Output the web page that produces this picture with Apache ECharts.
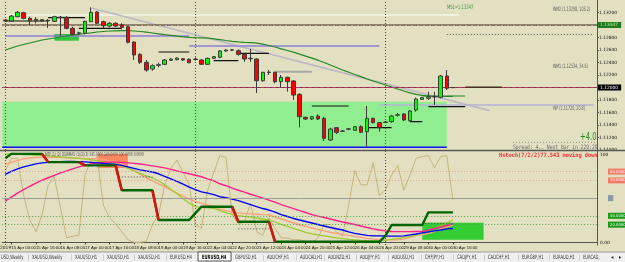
<!DOCTYPE html>
<html><head><meta charset="utf-8">
<script src="https://cdn.jsdelivr.net/npm/echarts/dist/echarts.min.js"></script>
<style>html,body{margin:0;padding:0;background:#E3DFC1;}#c{width:625px;height:262px;}</style>
</head><body><div id="c"></div>
<script>
// ---------- DATA ----------
const sessions = [
  ['14 Apr',[20]],
  ['15 Apr',[0,4,8,12,16,20]],['16 Apr',[0,4,8,12,16,20]],['17 Apr',[0,4,8,12,16,20]],
  ['18 Apr',[0,4,8,12,16,20]],['19 Apr',[0,4,8,12,16,20]],
  ['21 Apr',[20]],
  ['22 Apr',[0,4,8,12,16,20]],['23 Apr',[0,4,8,12,16,20]],['24 Apr',[0,4,8,12,16,20]],
  ['25 Apr',[0,4,8,12,16,20]],['26 Apr',[0,4,8,12,16,20]],
  ['28 Apr',[20]],
  ['29 Apr',[0,4,8,12,16,20]],['30 Apr',[0,4,8,12,16]]
];
const emptySlots = 23;
const weekStarts = [0, 31, 62];

const opens = [1.13080,1.13064,1.13133,1.13197,1.13107,1.13069,1.13085,1.13075,1.13059,1.13120,
 1.13123,1.12947,1.12867,1.12867,1.13053,1.13208,1.13053,1.12984,1.13027,1.13005,
 1.12973,1.12728,1.12531,1.12403,1.12296,1.12355,1.12371,1.12435,1.12445,1.12461,
 1.12451,1.12456,1.12440,1.12371,1.12467,1.12483,1.12584,1.12597,1.12589,1.12531,
 1.12459,1.12456,1.12109,1.12240,1.12243,1.12093,1.12163,1.12104,1.11891,1.11523,
 1.11496,1.11544,1.11507,1.11160,1.11357,1.11304,1.11331,1.11315,1.11373,1.11293,
 1.11507,1.11437,1.11440,1.11453,1.11557,1.11576,1.11469,1.11640,1.11811,1.11827,
 1.11850,1.11843,1.12184,1.11997];
const closes = [1.13064,1.13144,1.13203,1.13107,1.13069,1.13091,1.13069,1.13067,1.13133,1.13128,
 1.12947,1.12851,1.12877,1.13059,1.13203,1.13027,1.12989,1.13027,1.12984,1.12963,
 1.12723,1.12520,1.12403,1.12280,1.12349,1.12365,1.12440,1.12456,1.12472,1.12440,
 1.12397,1.12448,1.12371,1.12467,1.12493,1.12584,1.12600,1.12603,1.12531,1.12456,
 1.12467,1.12109,1.12243,1.12246,1.12093,1.12163,1.12093,1.11880,1.11533,1.11496,
 1.11533,1.11496,1.11187,1.11336,1.11283,1.11299,1.11339,1.11373,1.11283,1.11507,
 1.11437,1.11357,1.11448,1.11544,1.11563,1.11480,1.11624,1.11816,1.11837,1.11853,
 1.11856,1.12184,1.11987,1.12000];
const lows = [1.13048,1.13048,1.13123,1.13091,1.13000,1.13027,1.13053,1.12952,1.13048,1.12824,
 1.12931,1.12835,1.12840,1.12851,1.13048,1.13016,1.12947,1.12963,1.12973,1.12931,
 1.12707,1.12440,1.12376,1.12253,1.12269,1.12323,1.12360,1.12424,1.12435,1.12424,
 1.12387,1.12429,1.12360,1.12360,1.12456,1.12467,1.12576,1.12584,1.12509,1.12413,
 1.12408,1.11912,1.12093,1.12200,1.12067,1.11997,1.11933,1.11800,1.11363,1.11480,
 1.11480,1.11480,1.11144,1.11144,1.11256,1.11288,1.11320,1.11304,1.11272,1.11053,
 1.11427,1.11293,1.11432,1.11437,1.11536,1.11464,1.11456,1.11613,1.11800,1.11800,
 1.11720,1.11827,1.11960,1.11992];
const highs = [1.13096,1.13160,1.13224,1.13213,1.13133,1.13123,1.13096,1.13096,1.13149,1.13144,
 1.13144,1.12973,1.12893,1.13069,1.13283,1.13224,1.13069,1.13048,1.13043,1.13027,
 1.12984,1.12739,1.12547,1.12440,1.12371,1.12397,1.12456,1.12467,1.12483,1.12472,
 1.12467,1.12483,1.12456,1.12477,1.12504,1.12600,1.12608,1.12616,1.12611,1.12547,
 1.12616,1.12467,1.12253,1.12280,1.12253,1.12200,1.12173,1.12120,1.11907,1.11533,
 1.11544,1.11571,1.11528,1.11357,1.11368,1.11320,1.11352,1.11384,1.11395,1.11704,
 1.11517,1.11448,1.11464,1.11560,1.11592,1.11592,1.11640,1.11837,1.11848,1.11933,
 1.11933,1.12200,1.12280,1.12003];
const maLine = [1.12600,1.12632,1.12664,1.12688,1.12712,1.12736,1.12760,1.12776,1.12792,1.12808,
 1.12824,1.12840,1.12851,1.12864,1.12875,1.12888,1.12896,1.12904,1.12907,1.12910,
 1.12909,1.12904,1.12896,1.12885,1.12872,1.12859,1.12846,1.12834,1.12821,1.12811,
 1.12803,1.12798,1.12795,1.12789,1.12779,1.12766,1.12752,1.12739,1.12730,1.12723,
 1.12718,1.12709,1.12693,1.12672,1.12648,1.12619,1.12592,1.12565,1.12533,1.12501,
 1.12469,1.12437,1.12400,1.12360,1.12320,1.12280,1.12245,1.12208,1.12174,1.12136,
 1.12104,1.12072,1.12040,1.12008,1.11976,1.11944,1.11915,1.11891,1.11875,1.11864,
 1.11858,1.11856,1.11856,1.11859];

// price levels
const m51Level = 1.13347;
const whiteSeg = [[0, 74, 1.13160]];
const oliveLevel = 1.13032;
const salmonLevels = [1.12952, 1.12552, 1.11864];
const dotLevels = [1.12504, 1.11464];
const purpleLevels = [1.12392, 1.12232, 1.11768];
const brownLevel = 1.11984;
const dotSegMain = [[72, 96, 1.12848]];
const wpSeg = [[61, 96, 1.11720]];
const purpleSegs = [[0, 30, 1.12824], [30, 61, 1.12664]];
const blackSegs = [[0,7,1.13064],[7,13,1.13117],[12,19,1.12947],[25,30,1.12568],[34,38,1.12429],
  [38,43,1.12547],[50,56,1.11704],[59,63,1.11357],[66,68,1.11453],[69,75,1.11693]];
const graySegs = [[44, 50, 1.12253]];
const brownSegs = [[75, 81, 1.12003]];
const greenSegs = [[68, 75, 1.11864]];
const trendLine = [[14, 1.13272], [79, 1.11630]];
const greenZone = [[0, 72, 1.11773, 1.11043]];
const blueEdge = [[0, 72, 1.11043]];
const smallBox = [[8, 12, 1.12856, 1.12749]];

// indicator
const stoch = [81,95,95,53,25,12,31,65,74,39, 5,7,8,76,93,96,42,28,21,12,
 3,0,0,1,20,31,65,84,93,79, 65,20,16,59,79,98,96,31,21,23,
 44,12,8,28,16,5,5,3,3,1, 0,5,20,20,12,7,42,81,65,65,
 90,53,59,76,87,59,76,95,97,98, 84,97,98,48];
const stepLine = [95,100,100,100,100,100,100, 90.7,90.7,90.7,90.7,90.7,90.7,
 87,87,87,87,87,87, 58.9,58.9,58.9,58.9,58.9,58.9, 25.3,25.3,25.3,25.3,25.3,25.3,
 33, 40.2,40.2,40.2,40.2,40.2,40.2, 23.3,23.3,23.3,23.3,23.3,23.3,
 0.6,0.6,0.6,0.6,0.6,0.6,0.6,0.6,0.6,0.6,0.6,0.6,0.6,0.6,0.6,0.6,0.6,0.6,
 7.3, 19.6,19.6,19.6,19.6,19.6,19.6, 33.9,33.9,33.9,33.9,33.9];
const stepDrops = [[6,7],[12,13],[18,19],[24,25],[37,38],[43,44]];
const blueLine = [76.9,80.3,83.1,85.3,87.0,88.7,89.8,90.4,90.9,91.1, 91.3,91.3,91.1,90.9,90.4,89.8,89.2,88.7,88.1,87.0,
 85.3,83.6,81.9,80.6,79.5,77.5,74.6,71.8,69.0,65.7, 62.3,59.5,57.0,55.6,53.9,51.6,50.5,48.8,47.1,44.9,
 42.7,40.4,38.2,36.5,34.2,31.4,29.2,27.0,25.3,23.6, 21.9,20.2,18.5,16.8,15.4,14.0,11.8,10.1,9.0,7.9,
 7.3,7.3,7.1,7.0,7.0,7.3,8.4,9.5,10.7,11.8, 12.9,14.0,15.2,15.7];
const pinkLine = [46.6,51.1,55.6,59.5,63.4,66.8,70.2,73.0,75.8,78.6, 80.8,83.1,85.3,87.0,88.7,89.8,90.4,90.7,90.7,90.4,
 89.8,89.2,88.5,87.6,86.4,85.3,84.2,82.5,80.8,79.1, 77.5,75.8,74.1,71.8,69.6,66.2,64.0,61.2,58.9,56.7,
 54.4,52.2,50.0,47.7,45.5,42.7,40.4,38.2,35.9,33.7, 31.4,29.7,28.1,26.4,24.7,23.0,21.6,20.2,18.5,16.8,
 15.2,14.0,12.9,12.3,12.1,12.1,12.1,12.3,12.3,14.0, 15.7,17.4,19.1,20.8];
const salmonLine = [88.1,90.4,92.6,94.3,95.4,96.0,96.3,96.3,96.2,96.0, 95.6,95.3,95.0,94.6,94.5,94.3,93.2,92.0,90.9,88.7,
 85.3,81.4,76.9,73.0,69.6,66.2,62.9,58.9,55.6,52.2, 48.8,46.0,44.0,42.1,40.2,37.6,35.9,34.2,33.3,32.8,
 32.2,31.8,31.3,30.9,28.6,26.4,24.1,21.9,19.6,18.0, 16.3,14.6,12.9,11.2,10.1,9.0,7.9,6.7,5.6,4.5,
 3.6,2.8,2.8,2.8,2.8,3.9,5.6,7.9,8.4,10.1, 12.3,15.2,17.4,19.6];
const ygLine = [99.3,100.5,99.9,99.3,98.8,98.2,98.2,97.7,97.1,96.5, 96.0,95.4,94.8,94.3,93.2,92.0,90.9,89.8,88.7,86.4,
 83.6,80.8,78.0,75.2,73.0,69.6,65.1,60.1,55.0,49.4, 44.3,40.4,39.5,39.0,38.4,35.9,33.7,31.4,30.3,29.4,
 28.6,27.5,26.4,25.3,23.0,20.2,18.0,15.7,13.5,11.2, 9.5,8.4,7.3,6.2,5.1,4.2,3.4,2.8,2.2,1.9,
 1.7,1.7,2.2,3.4,4.5,5.6,6.7,8.4,10.1,12.9, 15.7,18.5,21.9,25.3];
const indDotSegs = [[19,24,73.9],[38,43,15.2],[68,73,21.6]];
const upperLevels = [80, 70];
const midLevel = 50;
const lowerLevels = [30, 20];
const orangeBox = [[15, 20, 100, 84]];
const limeBox = [[68, 78, 22.2, 2.8]];

const tabs = ['USD,Weekly','XAUUSD,Weekly','XAUUSD,H1','XAUUSD,H1','XAUUSD,H1','EURUSD,H4','EURUSD,H4',
 'GBPUSD,H1','AUDCHF,H1','AUDCAD,H1','AUDNZD,H1','AUDJPY,H1','AUDUSD,H1','CHFJPY,H1','CADJPY,H1',
 'CADCHF,H1','EURGBP,H1','EURAUD,H1','EURCAD,'];
const activeTab = 6;

// ---------- BUILD ----------
const barTimes = sessions.flatMap(([d, hs]) => hs.map(h => d + ' ' + String(h).padStart(2,'0') + ':00'));
const categories = barTimes.concat(Array.from({length: emptySlots}, (_, k) => '+' + (k + 1)));
const lastBar = barTimes.length - 1;
const labelFn = (idx) => idx >= 1 && idx <= lastBar && (idx - 1) % 4 === 0;
const currentPrice = closes[lastBar];

const FONT = 'DejaVu Sans';
const chart = echarts.init(document.getElementById('c'), null, {renderer: 'canvas'});

function rectRender(color, fromEdge) {
  return function (params, api) {
    const p0 = api.coord([api.value(0), api.value(2)]);
    const p1 = api.coord([api.value(1), api.value(3)]);
    const x0 = fromEdge ? params.coordSys.x : p0[0];
    return {type: 'rect', shape: {x: x0, y: p0[1], width: p1[0] - x0, height: p1[1] - p0[1]}, style: {fill: color}};
  };
}
function lineRender(fromEdge) {
  return function (params, api) {
    const p0 = api.coord([api.value(0), api.value(2)]);
    const p1 = api.coord([api.value(1), api.value(2)]);
    const x0 = fromEdge ? params.coordSys.x : p0[0];
    return {type: 'line', shape: {x1: x0, y1: p0[1], x2: p1[0], y2: p1[1]}, style: {stroke: '#1010ee', lineWidth: 1.5}};
  };
}
function segs(list, style, g, z) {
  return list.map(s => ({type: 'line', xAxisIndex: g, yAxisIndex: g, data: [[s[0], s[2]], [s[1], s[2]]],
    symbol: 'none', lineStyle: style, silent: true, z: z || 3, animation: false}));
}
function lvl(v, color, type, width, label) {
  const o = {yAxis: v, lineStyle: {color: color, type: type, width: width || 1}};
  o.label = label ? label : {show: false};
  return o;
}
function T(x, y, text, size, color, sx, family, weight) {
  return {type: 'text', x: x, y: y, scaleX: sx || 1, silent: true, z: 100,
    style: {text: text, fill: color, fontSize: size, fontFamily: family || FONT, fontWeight: weight || 'normal',
      verticalAlign: 'middle', align: 'left'}};
}

const mainLevels = [
  lvl(m51Level, '#8fae7a', [3, 2], 1, {show: true, position: 'end', distance: 1, formatter: m51Level.toFixed(5),
    backgroundColor: '#1f7a1f', color: '#b8f0a0', fontSize: 4.4, padding: [1, 3, 1, 2], fontFamily: FONT}),
  lvl(oliveLevel, '#6f6a4c', 'solid', 1.6)
].concat(
  salmonLevels.map(v => lvl(v, '#d8a293', [4, 2], 1)),
  dotLevels.map(v => lvl(v, '#5c5c5c', [1, 2], 1)),
  purpleLevels.map(v => lvl(v, '#a152c4', [4, 2], 1)),
  [lvl(brownLevel, '#5d3e2e', 'solid', 1),
   lvl(currentPrice, '#c0307a', [4, 2], 1.2, {show: true, position: 'end', distance: 1, formatter: currentPrice.toFixed(5),
     backgroundColor: '#000', color: '#fff', fontSize: 4.4, padding: [1, 3, 1, 2], fontFamily: FONT})]
);
const sepLine = i => ({xAxis: categories[i], label: {show: false}, lineStyle: {color: '#4a4a4a', type: [1, 2], width: 1}});

const indLevels = upperLevels.map(v => lvl(v, '#e89a88', [1, 2], 1, {show: true, position: 'end', distance: 11,
    formatter: v.toFixed(4), backgroundColor: '#f47a68', color: '#fff', fontSize: 3.8, padding: [1, 2], fontFamily: FONT}))
  .concat([lvl(midLevel, '#9c9c9c', 'solid', 1, {show: true, position: 'end', distance: 11, formatter: ' ',
    backgroundColor: '#8a98a8', color: '#fff', fontSize: 4, padding: [1, 2], fontFamily: FONT})])
  .concat(lowerLevels.map(v => lvl(v, '#4aa84a', [1, 2], 1, {show: true, position: 'end', distance: 11,
    formatter: v.toFixed(4), backgroundColor: '#159a15', color: '#fff', fontSize: 3.8, padding: [1, 2], fontFamily: FONT})));

const series = [
  {type: 'custom', xAxisIndex: 0, yAxisIndex: 0, renderItem: rectRender('#90ee90', true), data: greenZone,
   encode: {x: [0, 1], y: [2, 3]}, z: 1, silent: true, animation: false},
  {type: 'custom', xAxisIndex: 0, yAxisIndex: 0, renderItem: lineRender(true), data: blueEdge,
   encode: {x: [0, 1], y: [2]}, z: 2, silent: true, animation: false},
  {type: 'custom', xAxisIndex: 0, yAxisIndex: 0, renderItem: rectRender('#34c634', false), data: smallBox,
   encode: {x: [0, 1], y: [2, 3]}, z: 2, silent: true, animation: false},
  {type: 'line', xAxisIndex: 0, yAxisIndex: 0, data: maLine, symbol: 'none', smooth: false,
   lineStyle: {color: '#238a23', width: 1.2}, z: 4, silent: true, animation: false,
   markLine: {symbol: ['none', 'none'], silent: true, animation: false, data: mainLevels.concat(weekStarts.map(sepLine))}},
  {type: 'line', xAxisIndex: 0, yAxisIndex: 0, data: trendLine, symbol: 'none',
   lineStyle: {color: '#bdb8c6', width: 1.6}, z: 3, silent: true, animation: false},
  {type: 'candlestick', xAxisIndex: 0, yAxisIndex: 0, barWidth: 4, z: 6, animation: false, silent: true,
   data: opens.map((o, i) => [o, closes[i], lows[i], highs[i]]),
   itemStyle: {color: '#00ff00', color0: '#ff0000', borderColor: '#3a3a3a', borderColor0: '#3a3a3a', borderWidth: 1}},
  // indicator
  {type: 'custom', xAxisIndex: 1, yAxisIndex: 1, renderItem: rectRender('#ff8a62', false), data: orangeBox,
   encode: {x: [0, 1], y: [2, 3]}, z: 1, silent: true, animation: false},
  {type: 'custom', xAxisIndex: 1, yAxisIndex: 1, renderItem: rectRender('#33cc33', false), data: limeBox,
   encode: {x: [0, 1], y: [2, 3]}, z: 1, silent: true, animation: false},
  {type: 'line', xAxisIndex: 1, yAxisIndex: 1, data: stoch, symbol: 'none', lineStyle: {color: '#c4b57a', width: 1},
   z: 3, silent: true, animation: false,
   markLine: {symbol: ['none', 'none'], silent: true, animation: false,
     data: indLevels.concat(weekStarts.map(sepLine))}},
  {type: 'line', xAxisIndex: 1, yAxisIndex: 1, data: salmonLine, symbol: 'none', lineStyle: {color: '#ffa07a', width: 1.4}, z: 4, silent: true, animation: false},
  {type: 'line', xAxisIndex: 1, yAxisIndex: 1, data: ygLine, symbol: 'none', lineStyle: {color: '#9acd32', width: 1.3}, z: 4, silent: true, animation: false},
  {type: 'line', xAxisIndex: 1, yAxisIndex: 1, data: pinkLine, symbol: 'none', lineStyle: {color: '#ff1e8c', width: 1.4}, z: 4, silent: true, animation: false},
  {type: 'line', xAxisIndex: 1, yAxisIndex: 1, data: blueLine, symbol: 'none', lineStyle: {color: '#0000ff', width: 1.4}, z: 4, silent: true, animation: false},
  {type: 'line', xAxisIndex: 1, yAxisIndex: 1, data: stepLine, symbol: 'none', lineStyle: {color: '#006400', width: 2.4}, z: 5, silent: true, animation: false}
].concat(
  segs(whiteSeg, {color: '#f6f4e8', width: 1.5}, 0, 2),
  segs(dotSegMain, {color: '#555', type: [1, 2], width: 1}, 0, 2),
  segs(wpSeg, {color: '#b9b2d6', width: 1.6}, 0, 3),
  segs(purpleSegs, {color: '#8d7ed8', width: 1.3}, 0, 3),
  segs(blackSegs, {color: '#111', width: 1.2}, 0, 5),
  segs(graySegs, {color: '#a9a9a9', width: 2}, 0, 5),
  segs(brownSegs, {color: '#4a2e22', width: 1.5}, 0, 5),
  segs(greenSegs, {color: '#1a8a1a', width: 1.2}, 0, 5),
  segs(indDotSegs, {color: '#444', type: [1, 2], width: 1}, 1, 6),
  stepDrops.map(d => ({type: 'line', xAxisIndex: 1, yAxisIndex: 1,
    data: [[d[0], stepLine[d[0]]], [d[1], stepLine[d[1]]]], symbol: 'none',
    lineStyle: {color: '#e01010', width: 2.4}, z: 6, silent: true, animation: false}))
);

// tab bar
const tabX = [1, 32, 75, 107, 138, 170, 202, 235, 267, 300, 328, 360, 392, 425, 457, 488, 522, 553, 583];
const graphics = [
  {type: 'line', shape: {x1: 0, y1: 150.5, x2: 625, y2: 150.5}, style: {stroke: '#5a5a5a', lineWidth: 1.5}, z: 90, silent: true},
  {type: 'rect', shape: {x: 0, y: 252, width: 625, height: 10}, style: {fill: '#efefef'}, z: 90, silent: true},
  {type: 'line', shape: {x1: 0, y1: 252, x2: 625, y2: 252}, style: {stroke: '#9a9a9a', lineWidth: 1}, z: 91, silent: true},
  {type: 'rect', shape: {x: 198, y: 252, width: 33, height: 9}, style: {fill: '#ffffff', stroke: '#555', lineWidth: 1}, z: 92, silent: true},
  T(580, 137, '+4.0', 10, '#1c8a1c', 0.68),
  T(513, 147.3, 'Spread: 4.. Next Bar in 229:29', 6, '#6a6a6a', 0.78, 'DejaVu Sans Mono'),
  {type: 'line', shape: {x1: 513, y1: 142.3, x2: 597, y2: 142.3}, style: {stroke: '#8a8a8a', lineWidth: 1, lineDash: [1, 2]}, z: 90, silent: true},
  T(499, 155.5, 'Hstoch(7/2/2)77.543 moving down', 6, '#ff2a2a', 0.88, 'DejaVu Sans Mono', 'bold'),
  T(45, 155, 'MTF (1) (2) DSWMAS (1)(2)(3) 345.0000 100.0000 100.0000 0.0000', 5, '#4a4a4a', 0.58),
  T(553, 9, 'WM2 (1.13258, 103.2)', 6, '#5a5a5a', 0.55),
  T(553, 66, 'WM1 (1.12534, 34.6)', 6, '#5a5a5a', 0.55),
  T(553, 108, 'WP (1.11720, 20.8)', 6, '#5a5a5a', 0.55),
  T(447, 7, 'M51=1.13347', 6, '#3d9a3d', 0.62),
  T(600, 154.5, '100', 4.4, '#111', 1),
  T(600, 243, '0.00', 4.4, '#111', 1),
  T(0, 248, '2019', 4.4, '#111', 1)
];
tabs.forEach((t, k) => {
  graphics.push(T(tabX[k], 257, t, 6, k === activeTab ? '#000' : '#3a3a3a', 0.62, FONT, k === activeTab ? 'bold' : 'normal'));
  if (k > 0) graphics.push(T(tabX[k] - 4, 257, '|', 6, '#8a8a8a', 0.6));
});
graphics.push(T(611, 257, '◂', 6, '#333', 0.8));
graphics.push(T(619, 257, '▸', 6, '#333', 0.8));

chart.setOption({
  animation: false,
  backgroundColor: '#E3DFC1',
  grid: [
    {left: 2.2, right: 28, top: 0, height: 150},
    {left: 2.2, right: 28, top: 149, height: 96}
  ],
  xAxis: [
    {gridIndex: 0, type: 'category', data: categories, axisLine: {show: false}, axisTick: {show: false},
     axisLabel: {show: false}, splitLine: {show: false}},
    {gridIndex: 1, type: 'category', data: categories, axisLine: {show: true, lineStyle: {color: '#555', width: 1}},
     axisTick: {show: true, alignWithLabel: true, interval: labelFn, length: 2, lineStyle: {color: '#333'}},
     axisLabel: {interval: labelFn, align: 'left', fontSize: 4.3, margin: 1, color: '#111',
       fontFamily: "'Liberation Sans Narrow','Liberation Sans'", hideOverlap: false},
     splitLine: {show: false}}
  ],
  yAxis: [
    {gridIndex: 0, type: 'value', position: 'right', min: 1.110, max: 1.134, interval: 0.002,
     axisLine: {show: true, lineStyle: {color: '#555'}}, axisTick: {show: true, length: 2, lineStyle: {color: '#555'}},
     splitLine: {show: false},
     axisLabel: {fontSize: 4.4, margin: 2, color: '#111', fontFamily: FONT, showMaxLabel: false,
       formatter: v => v.toFixed(5)}},
    {gridIndex: 1, type: 'value', position: 'right', min: -3, max: 105.5,
     axisLine: {show: true, lineStyle: {color: '#555'}}, axisTick: {show: false}, axisLabel: {show: false},
     splitLine: {show: false}}
  ],
  series: series,
  graphic: graphics
});
</script></body></html>
